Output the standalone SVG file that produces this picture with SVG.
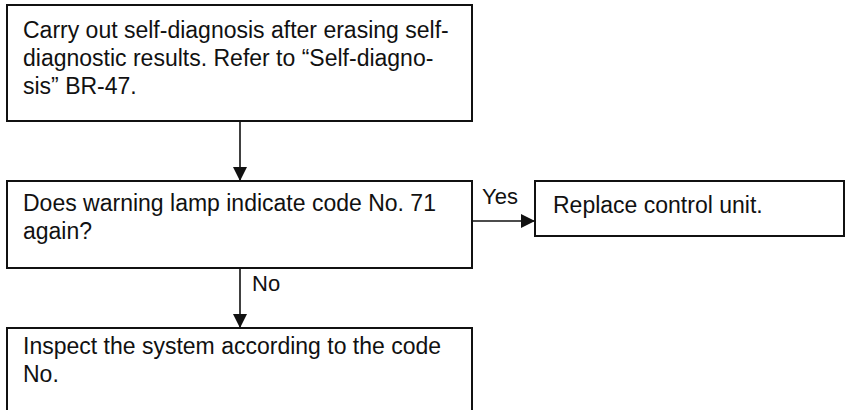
<svg xmlns="http://www.w3.org/2000/svg" width="846" height="410" viewBox="0 0 846 410">
<defs>
<style>
.box{fill:#fff;stroke:#111;stroke-width:2}
.t{font-family:"Liberation Sans",Arial,sans-serif;font-size:23px;fill:#111}
.lbl{font-family:"Liberation Sans",Arial,sans-serif;font-size:22px;fill:#111}
.ln{stroke:#111;stroke-width:1.6;fill:none}
</style>
<marker id="ah" viewBox="0 0 14 14" refX="14" refY="7" markerWidth="14" markerHeight="14" markerUnits="userSpaceOnUse" orient="auto">
<path d="M0,0 L14,7 L0,14 Z" fill="#111"/>
</marker>
</defs>
<rect width="846" height="410" fill="#fff"/>
<g id="connectors">
<line class="ln" x1="240" y1="121" x2="240" y2="181" marker-end="url(#ah)"/>
<line class="ln" x1="472" y1="221" x2="535" y2="221" marker-end="url(#ah)"/>
<line class="ln" x1="240" y1="268" x2="240" y2="328" marker-end="url(#ah)"/>
<text class="lbl" x="482" y="204">Yes</text>
<text class="lbl" x="252" y="291">No</text>
</g>
<g id="n1">
<rect class="box" x="7" y="5" width="465" height="116"/>
<text class="t" x="23" y="38">Carry out self-diagnosis after erasing self-</text>
<text class="t" x="23" y="66">diagnostic results. Refer to “Self-diagno-</text>
<text class="t" x="23" y="94">sis” BR-47.</text>
</g>
<g id="n2">
<rect class="box" x="7" y="181" width="465" height="87"/>
<text class="t" x="23" y="211">Does warning lamp indicate code No. 71</text>
<text class="t" x="23" y="239">again?</text>
</g>
<g id="n3">
<rect class="box" x="535" y="181" width="309" height="55"/>
<text class="t" x="553" y="213">Replace control unit.</text>
</g>
<g id="n4">
<rect class="box" x="7" y="328" width="465" height="100"/>
<text class="t" x="23" y="354">Inspect the system according to the code</text>
<text class="t" x="23" y="382">No.</text>
</g>
</svg>
